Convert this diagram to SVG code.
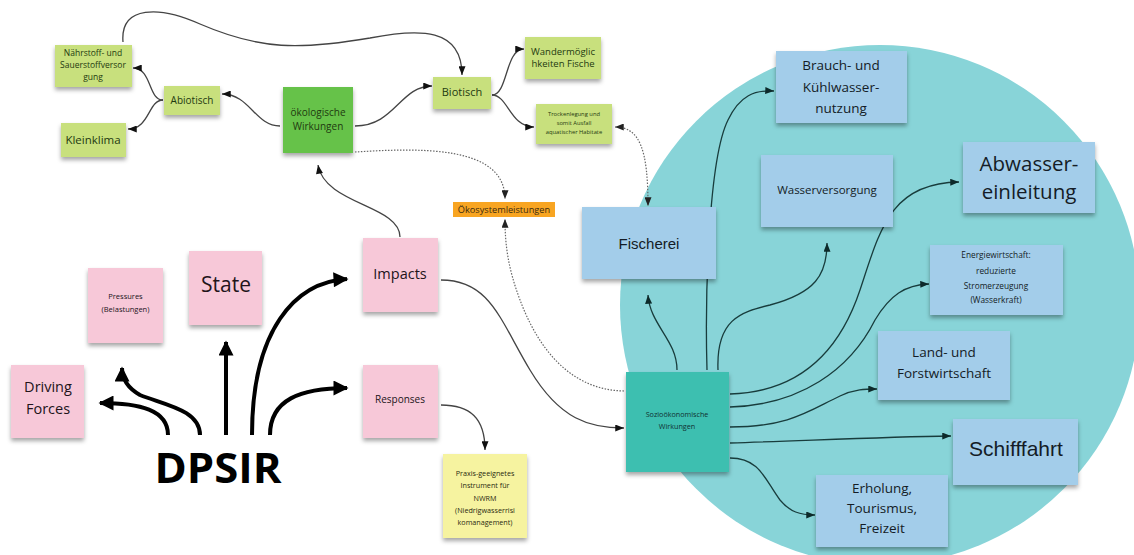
<svg xmlns="http://www.w3.org/2000/svg" width="1134" height="555" viewBox="0 0 1134 555">
<defs>
<style>
.t{font-family:"Open Sans","Noto Sans","DejaVu Sans",sans-serif;text-anchor:middle;}
.a{font-family:"Liberation Sans",Arial,sans-serif;text-anchor:middle;}
.g{fill:#c8e07d;}
.dg{fill:#66c24a;}
.pk{fill:#f7c8d8;}
.bl{fill:#a3cdea;}
.ye{fill:#f6f3a0;}
.gt{fill:#1f3a10;}
.bt{fill:#141c26;}
.pt{fill:#22141a;}
.c{fill:none;stroke:#444;stroke-width:1.3;}
.d{fill:none;stroke:#666;stroke-width:1.2;stroke-dasharray:1.5 1.5;}
.k{fill:none;stroke:#000;stroke-width:4;}
.s{fill:none;stroke:#183c3c;stroke-width:1.3;}
</style>
<filter id="sh" x="-20%" y="-20%" width="140%" height="150%">
<feDropShadow dx="0" dy="3" stdDeviation="2" flood-color="#000" flood-opacity="0.35"/>
</filter>
<marker id="ar" viewBox="0 0 10 8" markerUnits="userSpaceOnUse" markerWidth="10" markerHeight="7" refX="10" refY="4" orient="auto">
<path d="M0,0 L10,4 L0,8 z" fill="#111"/>
</marker>
<marker id="ars" viewBox="0 0 10 8" markerUnits="userSpaceOnUse" markerWidth="10" markerHeight="7" refX="10" refY="4" orient="auto">
<path d="M0,0 L10,4 L0,8 z" fill="#0d2a2a"/>
</marker>
<marker id="ard" viewBox="0 0 10 8" markerUnits="userSpaceOnUse" markerWidth="9" markerHeight="7" refX="10" refY="4" orient="auto-start-reverse">
<path d="M0,0 L10,4 L0,8 z" fill="#222"/>
</marker>
<marker id="big" viewBox="0 0 10 10" markerUnits="userSpaceOnUse" markerWidth="16" markerHeight="15" refX="9" refY="5" orient="auto">
<path d="M0,0 L10,5 L0,10 z" fill="#000"/>
</marker>
</defs>
<rect width="1134" height="555" fill="#fff"/>
<circle cx="880" cy="305" r="260" fill="#88d4d8"/>

<g id="connectors">
<path class="c" d="M123,42 C120,5 160,6 200,24 C260,50 300,50 370,38 C420,28 462,28 462,75" marker-end="url(#ar)"/>
<path class="c" d="M280,126 C255,126 250,94 222,94" marker-end="url(#ar)"/>
<path class="c" d="M355,126 C395,126 400,86 432,86" marker-end="url(#ar)"/>
<path class="c" d="M163,100 C148,100 152,68 133,68" marker-end="url(#ar)"/>
<path class="c" d="M163,100 C148,100 150,129 128,129" marker-end="url(#ar)"/>
<path class="c" d="M492,95 C508,95 505,49 524,49" marker-end="url(#ar)"/>
<path class="c" d="M492,95 C508,95 510,127 534,127" marker-end="url(#ar)"/>
<path class="c" d="M400,237 C400,205 325,205 318,165" marker-end="url(#ar)"/>
<path class="d" d="M355,152 C420,148 505,145 505,199" marker-end="url(#ard)"/>
<path class="d" d="M615,127 C640,127 648,150 648,206" marker-start="url(#ard)" marker-end="url(#ard)"/>
<path class="d" d="M624,391 C565,390 535,340 520,300 C508,268 505,245 505,219" marker-end="url(#ard)"/>
<path class="c" d="M441,280 C490,280 500,320 530,370 C560,420 590,428 624,428" marker-end="url(#ar)"/>
<path class="c" d="M441,405 C470,405 485,418 485,450" marker-end="url(#ar)"/>
<path class="k" d="M168,435 C168,410 140,403 100,403" marker-end="url(#big)"/>
<path class="k" d="M200,435 C200,410 165,405 140,395 C126,387 122,378 122,368" marker-end="url(#big)"/>
<path class="k" d="M226,435 L226,342" marker-end="url(#big)"/>
<path class="k" d="M252,435 C252,330 295,282 347,279" marker-end="url(#big)"/>
<path class="k" d="M270,435 C270,400 300,388 347,388" marker-end="url(#big)"/>
<path class="s" d="M677,370 C677,340 650,325 648,295" marker-end="url(#ars)"/>
<path class="s" d="M707,370 C705,300 708,160 728,120 C740,95 755,90 774,91" marker-end="url(#ars)"/>
<path class="s" d="M718,370 C716,320 740,312 770,305 C815,293 827,275 827,243" marker-end="url(#ars)"/>
<path class="s" d="M730,394 C800,392 840,350 860,290 C880,230 890,183 959,182" marker-end="url(#ars)"/>
<path class="s" d="M730,407 C800,405 850,370 875,320 C890,295 905,285 929,284" marker-end="url(#ars)"/>
<path class="s" d="M730,427 C790,427 810,410 840,396 C855,389 865,389 877,389" marker-end="url(#ars)"/>
<path class="s" d="M730,443 C800,441 880,437 951,436" marker-end="url(#ars)"/>
<path class="s" d="M730,458 C760,458 765,480 780,500 C790,512 800,515 815,515" marker-end="url(#ars)"/>
</g>

<g id="n-naehrstoff"><rect class="g" x="55" y="45" width="77" height="42" filter="url(#sh)"/>
<text class="t gt" font-size="8.5"><tspan x="93" y="56">Nährstoff- und</tspan><tspan x="93" y="68">Sauerstoffversor</tspan><tspan x="93" y="80">gung</tspan></text></g>
<g id="n-kleinklima"><rect class="g" x="61" y="123" width="65" height="34" filter="url(#sh)"/>
<text class="t gt" font-size="11.5" x="93" y="144">Kleinklima</text></g>
<g id="n-abiotisch"><rect class="g" x="164" y="86" width="56" height="29" filter="url(#sh)"/>
<text class="t gt" font-size="10" x="192" y="103.5">Abiotisch</text></g>
<g id="n-oeko"><rect class="dg" x="283" y="87" width="70" height="66" filter="url(#sh)"/>
<text class="t gt" font-size="10"><tspan x="318" y="116">ökologische</tspan><tspan x="318" y="130">Wirkungen</tspan></text></g>
<g id="n-biotisch"><rect class="g" x="433" y="77" width="58" height="32" filter="url(#sh)"/>
<text class="t gt" font-size="11" x="462" y="96">Biotisch</text></g>
<g id="n-wander"><rect class="g" x="525" y="37" width="76" height="42" filter="url(#sh)"/>
<text class="t gt" font-size="9.5"><tspan x="563" y="55">Wandermöglic</tspan><tspan x="563" y="67">hkeiten Fische</tspan></text></g>
<g id="n-trocken"><rect class="g" x="536" y="104" width="76" height="40" filter="url(#sh)"/>
<text class="t gt" font-size="5.8"><tspan x="574" y="116">Trockenlegung und</tspan><tspan x="574" y="125">somit Ausfall</tspan><tspan x="574" y="134">aquatischer Habitate</tspan></text></g>
<g id="n-oekosys"><rect x="453" y="202" width="102" height="15" fill="#f8a522"/>
<text class="t" font-size="9.2" fill="#3a2a10" x="504" y="213">Ökosystemleistungen</text></g>

<g id="n-pressures"><rect class="pk" x="88" y="268" width="75" height="75" filter="url(#sh)"/>
<text class="t pt" font-size="7.5"><tspan x="125.5" y="299">Pressures</tspan><tspan x="125.5" y="312">(Belastungen)</tspan></text></g>
<g id="n-state"><rect class="pk" x="189" y="251" width="73" height="74" filter="url(#sh)"/>
<text class="t pt" font-size="21" x="226" y="292">State</text></g>
<g id="n-impacts"><rect class="pk" x="363" y="238" width="75" height="74" filter="url(#sh)"/>
<text class="t pt" font-size="14.5" x="400" y="279">Impacts</text></g>
<g id="n-driving"><rect class="pk" x="11" y="365" width="73" height="73" filter="url(#sh)"/>
<text class="t pt" font-size="14.5"><tspan x="48" y="392">Driving</tspan><tspan x="48" y="414">Forces</tspan></text></g>
<g id="n-responses"><rect class="pk" x="363" y="365" width="75" height="73" filter="url(#sh)"/>
<text class="t pt" font-size="10" x="400" y="403">Responses</text></g>
<g id="n-dpsir"><text class="t" font-size="41" font-weight="700" fill="#000" x="218" y="483" textLength="127" lengthAdjust="spacingAndGlyphs">DPSIR</text></g>
<g id="n-praxis"><rect class="ye" x="443" y="454" width="84" height="84" filter="url(#sh)"/>
<text class="t" font-size="7.2" fill="#2a2a10"><tspan x="485" y="476">Praxis-geeignetes</tspan><tspan x="485" y="488">Instrument für</tspan><tspan x="485" y="501">NWRM</tspan><tspan x="485" y="513">(Niedrigwasserrisi</tspan><tspan x="485" y="525">komanagement)</tspan></text></g>

<g id="n-sozio"><rect x="626" y="372" width="103" height="100" fill="#3dbfb0" filter="url(#sh)"/>
<text class="t" font-size="7.2" fill="#103030"><tspan x="677" y="417">Sozioökonomische</tspan><tspan x="677" y="429">Wirkungen</tspan></text></g>
<g id="n-fischerei"><rect class="bl" x="582" y="207" width="134" height="72" filter="url(#sh)"/>
<text class="a bt" font-size="15" x="649" y="249">Fischerei</text></g>
<g id="n-brauch"><rect class="bl" x="776" y="51" width="131" height="72" filter="url(#sh)"/>
<text class="t bt" font-size="13.5"><tspan x="841" y="70">Brauch- und</tspan><tspan x="841" y="92">Kühlwasser-</tspan><tspan x="841" y="113">nutzung</tspan></text></g>
<g id="n-wasserv"><rect class="bl" x="761" y="155" width="132" height="72" filter="url(#sh)"/>
<text class="t bt" font-size="11.5" x="827" y="194">Wasserversorgung</text></g>
<g id="n-abwasser"><rect class="bl" x="963" y="142" width="132" height="71" filter="url(#sh)"/>
<text class="t bt" font-size="20.5"><tspan x="1029" y="171">Abwasser-</tspan><tspan x="1029" y="199">einleitung</tspan></text></g>
<g id="n-energie"><rect class="bl" x="930" y="245" width="133" height="70" filter="url(#sh)"/>
<text class="t bt" font-size="8.3"><tspan x="996" y="258">Energiewirtschaft:</tspan><tspan x="996" y="274">reduzierte</tspan><tspan x="996" y="289">Stromerzeugung</tspan><tspan x="996" y="303">(Wasserkraft)</tspan></text></g>
<g id="n-land"><rect class="bl" x="878" y="331" width="132" height="69" filter="url(#sh)"/>
<text class="t bt" font-size="13.5"><tspan x="944" y="357">Land- und</tspan><tspan x="944" y="378">Forstwirtschaft</tspan></text></g>
<g id="n-schiff"><rect class="bl" x="953" y="419" width="125" height="66" filter="url(#sh)"/>
<text class="a bt" font-size="21" x="1016" y="456">Schifffahrt</text></g>
<g id="n-erholung"><rect class="bl" x="816" y="475" width="132" height="72" filter="url(#sh)"/>
<text class="t bt" font-size="13.5"><tspan x="882" y="493">Erholung,</tspan><tspan x="882" y="513">Tourismus,</tspan><tspan x="882" y="533">Freizeit</tspan></text></g>
</svg>
